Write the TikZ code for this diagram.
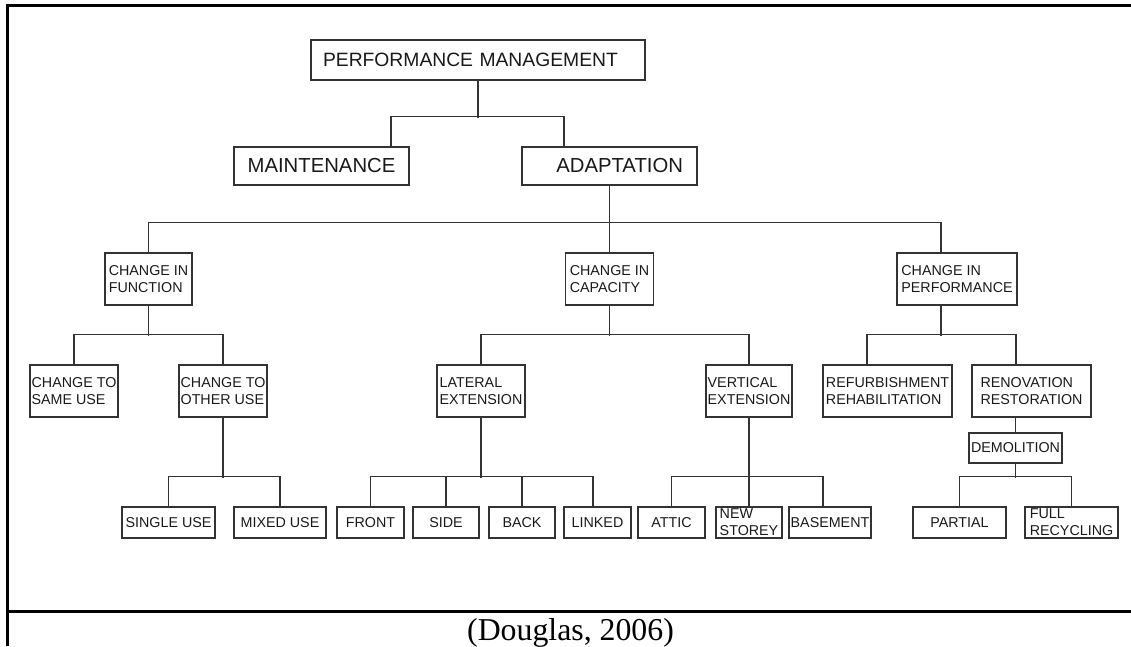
\documentclass[tikz,border=0pt]{standalone}
\usepackage{fontspec}
\setmainfont{Liberation Sans}
\newfontfamily\sourcefont{Liberation Serif}
\usepackage{xcolor}
\usepackage{tikz}
\usetikzlibrary{positioning}
\definecolor{linegray}{HTML}{333333}

\begin{document}
\begin{tikzpicture}[x=1pt, y=-1pt,
            box/.style={draw=linegray, line width=1.4pt, rectangle, inner sep=0pt, align=left,
                 text=black!90, font=\fontsize{14.3}{17}\selectfont},
            headbox/.style={box, minimum width=175pt, minimum height=38pt, font=\fontsize{20.3}{24}\selectfont},
            midbox/.style={box, minimum height=52pt},
            leafbox/.style={box, minimum height=31pt},
            link/.style={draw=linegray, line width=1.4pt},
            frame/.style={line width=3pt}
            ]
            \useasboundingbox (0,0) rectangle (1131,646);

            % Table frame
            \draw[frame] (7.5,646) -- (7.5,5.5) -- (1131,5.5);
            \draw[frame] (7.5,611) -- (1131,611);

            % Nodes with manual coordinates
            \node[box, minimum height=40pt, inner xsep=12pt, text width=310pt,
                  font=\fontsize{19.3}{23}\selectfont] (pm) at (478,60) {PERFORMANCE MANAGEMENT};
            \node[headbox] (maint) at (321.5,166) {MAINTENANCE};
            \node[headbox, inner xsep=14pt, text width=147pt, align=right] (adapt) at (609.5,166) {ADAPTATION};

            \node[midbox, minimum width=87pt] (cif) at (148.5,279) {CHANGE IN\\FUNCTION};
            \node[midbox, minimum width=88pt] (cic) at (609.5,279) {CHANGE IN\\CAPACITY};
            \node[midbox, minimum width=120pt] (cip) at (957,279) {CHANGE IN\\PERFORMANCE};

            \node[midbox, minimum width=88pt] (cts) at (74,391) {CHANGE TO\\SAME USE};
            \node[midbox, minimum width=88pt] (cto) at (223,391) {CHANGE TO\\OTHER USE};
            \node[midbox, minimum width=88pt] (lat) at (481,391) {LATERAL\\EXTENSION};
            \node[midbox, minimum width=86pt] (vert) at (749,391) {VERTICAL\\EXTENSION};
            \node[midbox, minimum width=129pt] (refurb) at (887.5,391) {REFURBISHMENT\\REHABILITATION};
            \node[midbox, minimum width=119pt] (renov) at (1031.5,391) {RENOVATION\\RESTORATION};
            \node[box, minimum width=93pt, minimum height=30pt] (demol) at (1015.5,448) {DEMOLITION};

            \node[leafbox, minimum width=93pt] (single) at (168.5,522.5) {SINGLE USE};
            \node[leafbox, minimum width=92pt] (mixed) at (280,522.5) {MIXED USE};
            \node[leafbox, minimum width=67pt] (front) at (370.5,522.5) {FRONT};
            \node[leafbox, minimum width=66pt] (side) at (446,522.5) {SIDE};
            \node[leafbox, minimum width=66pt] (back) at (522,522.5) {BACK};
            \node[leafbox, minimum width=67pt] (linked) at (597.5,522.5) {LINKED};
            \node[leafbox, minimum width=67pt] (attic) at (671.5,522.5) {ATTIC};
            \node[leafbox, minimum width=66pt] (newst) at (749,522.5) {NEW\\STOREY};
            \node[leafbox, minimum width=82pt] (basement) at (830,522.5) {BASEMENT};
            \node[leafbox, minimum width=93pt] (partial) at (959.5,522.5) {PARTIAL};
            \node[leafbox, minimum width=93pt] (full) at (1071.5,522.5) {FULL\\RECYCLING};

            \node[font=\sourcefont\fontsize{31.8}{38}\selectfont, anchor=base] (src) at (570.5,640) {(Douglas, 2006)};

            % Connectors
            \draw[link] (pm.south) -- ++(0,37);
            \draw[link] (maint.north -| 391,0) -- ++(0,-30) -| (adapt.north -| 564,0);

            \draw[link] (adapt.south) -- (cic.north);
            \draw[link] (cif.north) -- ++(0,-30) -| (cip.north -| 941,0);

            \draw[link] (cif.south) -- ++(0,30);
            \draw[link] (cts.north) -- ++(0,-30) -| (cto.north);
            \draw[link] (cic.south) -- ++(0,30);
            \draw[link] (lat.north) -- ++(0,-30) -| (vert.north);
            \draw[link] (cip.south -| 941,0) -- ++(0,30);
            \draw[link] (refurb.north -| 867,0) -- ++(0,-30) -| (renov.north -| 1016,0);
            \draw[link] (demol.north) -- (demol.north |- renov.south);

            \draw[link] (cto.south) -- ++(0,60);
            \draw[link] (single.north) -- ++(0,-30) -| (mixed.north);
            \draw[link] (lat.south) -- ++(0,60);
            \draw[link] (front.north) -- ++(0,-30) -| (linked.north -| 593,0);
            \draw[link] (side.north) -- ++(0,-30);
            \draw[link] (back.north) -- ++(0,-30);
            \draw[link] (vert.south) -- (newst.north);
            \draw[link] (attic.north) -- ++(0,-30) -| (basement.north -| 823,0);
            \draw[link] (demol.south) -- ++(0,14);
            \draw[link] (partial.north) -- ++(0,-30) -| (full.north);
        \end{tikzpicture}
\end{document}
